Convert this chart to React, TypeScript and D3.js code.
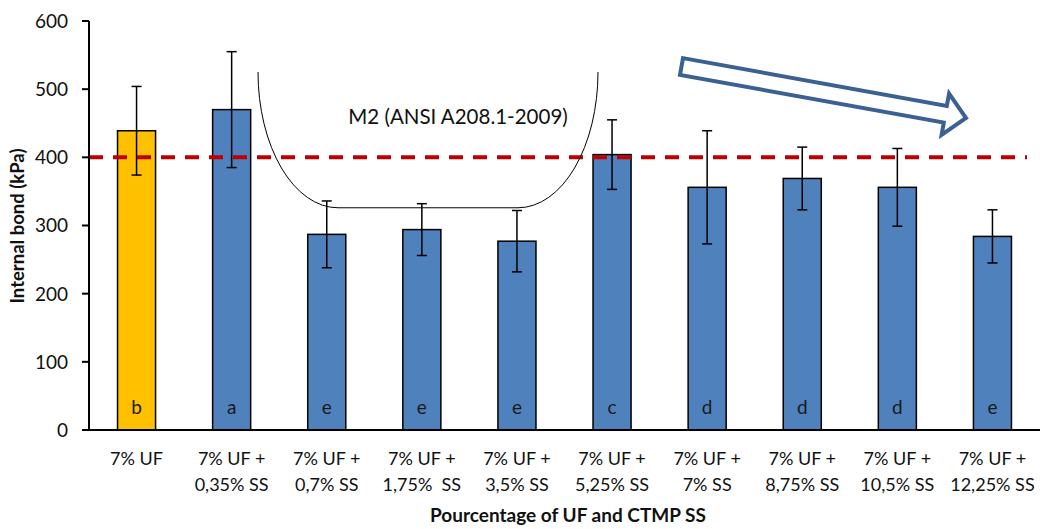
import React from "react";
import * as d3 from "d3";

// Internal bond of particleboards bonded with UF and CTMP SS
const categories: string[][] = [
  ["7% UF"],
  ["7% UF +", "0,35% SS"],
  ["7% UF +", "0,7% SS"],
  ["7% UF +", "1,75%  SS"],
  ["7% UF +", "3,5% SS"],
  ["7% UF +", "5,25% SS"],
  ["7% UF +", "7% SS"],
  ["7% UF +", "8,75% SS"],
  ["7% UF +", "10,5% SS"],
  ["7% UF +", "12,25% SS"],
];
const internalBond = [439, 470, 287, 294, 277, 404, 356, 369, 356, 284];
const stdDev = [65, 85, 49, 38, 45, 51, 83, 46, 57, 39];
const groups = ["b", "a", "e", "e", "e", "c", "d", "d", "d", "e"];
const yTicks = [0, 100, 200, 300, 400, 500, 600];
const m2Standard = 400;

const W = 1042;
const H = 529;
const margin = { left: 89, right: 2, top: 21, bottom: 99 };
const FONT = "Lato, 'Open Sans', 'Liberation Sans', sans-serif";

export default function App() {
  const ids = categories.map((_, i) => String(i));
  const x = d3
    .scaleBand<string>()
    .domain(ids)
    .range([margin.left, W - margin.right])
    .paddingInner(0.6)
    .paddingOuter(0.3);
  const y = d3
    .scaleLinear()
    .domain([0, 600])
    .range([H - margin.bottom, margin.top]);

  const bw = x.bandwidth();
  const y0 = y(0);
  const cap = 5;

  // Bracket marking the treatments under the M2 requirement
  const bx0 = 258;
  const bx1 = 598;
  const bTop = 72;
  const bBottom = y(326);
  const rx = 80;
  const ry = bBottom - bTop;
  const bracket = `M${bx0},${bTop} A${rx},${ry} 0 0 0 ${bx0 + rx},${bBottom} L${bx1 - rx},${bBottom} A${rx},${ry} 0 0 0 ${bx1},${bTop}`;

  // Decreasing-trend block arrow
  const tail = [681.5, 66.5];
  const tip = [966, 118];
  const ang = Math.atan2(tip[1] - tail[1], tip[0] - tail[0]);
  const len = Math.hypot(tip[0] - tail[0], tip[1] - tail[1]);
  const sw = 8.5;
  const hw = 21;
  const hl = 21;
  const arrowLocal = [
    [0, -sw],
    [len - hl, -sw],
    [len - hl, -hw],
    [len, 0],
    [len - hl, hw],
    [len - hl, sw],
    [0, sw],
  ];
  const arrowPts = arrowLocal
    .map(([u, v]) => {
      const px = tail[0] + u * Math.cos(ang) - v * Math.sin(ang);
      const py = tail[1] + u * Math.sin(ang) + v * Math.cos(ang);
      return `${px.toFixed(1)},${py.toFixed(1)}`;
    })
    .join(" ");

  return (
    <svg
      width={W}
      height={H}
      style={{ position: "absolute", left: 0, top: 0, background: "#fff" }}
      fontFamily={FONT}
    >
      {/* bars */}
      {internalBond.map((v, i) => (
        <rect
          key={`b${i}`}
          x={x(ids[i])}
          y={y(v)}
          width={bw}
          height={y0 - y(v)}
          fill={i === 0 ? "#FFC000" : "#4F81BD"}
          stroke="#000"
          strokeWidth={1.5}
        />
      ))}

      {/* group letters */}
      {groups.map((g, i) => (
        <text
          key={`g${i}`}
          x={(x(ids[i]) as number) + bw / 2}
          y={414}
          textAnchor="middle"
          fontSize={19}
          fill="#1a1a1a"
        >
          {g}
        </text>
      ))}

      {/* error bars */}
      {internalBond.map((v, i) => {
        const cx = (x(ids[i]) as number) + bw / 2;
        const hi = y(v + stdDev[i]);
        const lo = y(v - stdDev[i]);
        return (
          <g key={`e${i}`} stroke="#000" strokeWidth={1.5}>
            <line x1={cx} x2={cx} y1={hi} y2={lo} />
            <line x1={cx - cap} x2={cx + cap} y1={hi} y2={hi} />
            <line x1={cx - cap} x2={cx + cap} y1={lo} y2={lo} />
          </g>
        );
      })}

      {/* M2 requirement line */}
      <line
        x1={margin.left}
        x2={1027}
        y1={y(m2Standard)}
        y2={y(m2Standard)}
        stroke="#C00000"
        strokeWidth={4}
        strokeDasharray="14 10"
      />

      {/* bracket and label */}
      <path d={bracket} fill="none" stroke="#000" strokeWidth={1} />
      <text x={458} y={124} textAnchor="middle" fontSize={20.5} fill="#111">
        M2 (ANSI A208.1-2009)
      </text>

      {/* trend arrow */}
      <polygon
        points={arrowPts}
        fill="#fff"
        stroke="#3B6192"
        strokeWidth={4}
        strokeLinejoin="miter"
      />

      {/* y axis */}
      <line x1={margin.left} x2={margin.left} y1={margin.top} y2={y0} stroke="#000" strokeWidth={2} />
      {yTicks.map((t) => (
        <g key={`t${t}`}>
          <line x1={margin.left - 7} x2={margin.left} y1={y(t)} y2={y(t)} stroke="#000" strokeWidth={2} />
          <text
            x={margin.left - 21}
            y={y(t)}
            dy="0.36em"
            textAnchor="end"
            fontSize={19}
            fill="#111"
          >
            {t}
          </text>
        </g>
      ))}

      {/* x axis */}
      <line x1={margin.left} x2={W - margin.right} y1={y0} y2={y0} stroke="#000" strokeWidth={2} />
      {categories.map((lines, i) => {
        const cx = (x(ids[i]) as number) + bw / 2;
        return (
          <text
            key={`c${i}`}
            x={cx}
            textAnchor="middle"
            fontSize={18}
            fill="#111"
            style={{ whiteSpace: "pre" }}
          >
            {lines.map((l, k) => (
              <tspan key={k} x={cx} y={465 + k * 26}>
                {l}
              </tspan>
            ))}
          </text>
        );
      })}

      {/* axis titles */}
      <text
        x={568}
        y={522}
        textAnchor="middle"
        fontSize={19}
        fontWeight="bold"
        fill="#111"
      >
        Pourcentage of UF and CTMP SS
      </text>
      <text
        transform={`translate(24, 226) rotate(-90)`}
        textAnchor="middle"
        fontSize={18.5}
        fontWeight="bold"
        fill="#111"
      >
        Internal bond (kPa)
      </text>
    </svg>
  );
}
